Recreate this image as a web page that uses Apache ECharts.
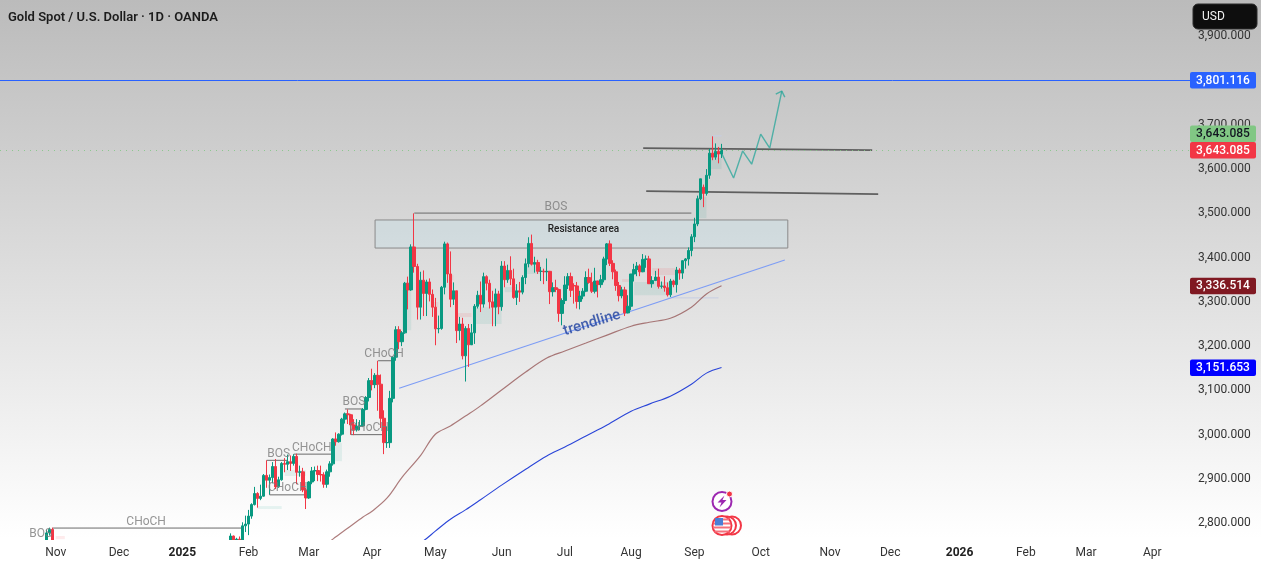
<!DOCTYPE html>
<html>
<head>
<meta charset="utf-8">
<title>Gold Spot / U.S. Dollar</title>
<style>html,body{margin:0;padding:0;background:#fff}#chart{width:1261px;height:567px}</style>
<script src="https://cdn.jsdelivr.net/npm/echarts@6/dist/echarts.min.js"></script>
</head>
<body>
<div id="chart"></div>
<script>
// Daily session calendar for the time scale
const sessionStart = '2024-10-08';
const sessionEnd = '2026-04-17';
const closedDays = ['2024-12-25', '2025-01-01', '2025-04-18', '2025-07-04'];

const monthTickDates = ['2024-11-01','2024-12-02','2025-01-02','2025-02-03','2025-03-03','2025-04-01','2025-05-01','2025-06-02','2025-07-01','2025-08-01','2025-09-01','2025-10-01','2025-11-03','2025-12-01','2026-01-01','2026-02-02','2026-03-02','2026-04-01'];
const monthTickLabels = ['Nov','Dec','2025','Feb','Mar','Apr','May','Jun','Jul','Aug','Sep','Oct','Nov','Dec','2026','Feb','Mar','Apr'];
const priceTicks = [2800,2900,3000,3100,3200,3300,3400,3500,3600,3700,3900];

// XAU/USD daily bars: date, open, close, low, high
const goldCandles = [
['2024-10-29',2742,2778,2735,2785],['2024-10-30',2778,2786,2772,2790],['2024-10-31',2786,2743,2730,2790],
['2025-01-24',2755,2771,2751,2777],['2025-01-27',2771,2741,2730,2772],['2025-01-28',2741,2764,2733,2767],['2025-01-29',2764,2760,2750,2770],['2025-01-30',2760,2794,2758,2802],['2025-01-31',2794,2798,2780,2817],
['2025-02-03',2798,2816,2773,2830],['2025-02-04',2816,2842,2810,2845],['2025-02-05',2842,2867,2840,2882],['2025-02-06',2867,2856,2835,2870],['2025-02-07',2856,2861,2852,2887],
['2025-02-10',2861,2908,2860,2911],['2025-02-11',2908,2897,2880,2942],['2025-02-12',2897,2903,2865,2910],['2025-02-13',2903,2928,2890,2938],['2025-02-14',2928,2882,2877,2945],
['2025-02-17',2882,2898,2880,2905],['2025-02-18',2898,2935,2896,2938],['2025-02-19',2935,2933,2915,2947],['2025-02-20',2933,2939,2920,2955],['2025-02-21',2939,2935,2918,2953],
['2025-02-24',2935,2951,2930,2956],['2025-02-25',2951,2915,2888,2957],['2025-02-26',2915,2916,2905,2930],['2025-02-27',2916,2875,2870,2925],['2025-02-28',2875,2857,2832,2880],
['2025-03-03',2857,2893,2855,2895],['2025-03-04',2893,2918,2888,2927],['2025-03-05',2918,2919,2895,2928],['2025-03-06',2919,2910,2895,2930],['2025-03-07',2910,2909,2894,2930],
['2025-03-10',2909,2888,2880,2915],['2025-03-11',2888,2916,2880,2921],['2025-03-12',2916,2934,2905,2940],['2025-03-13',2934,2990,2930,2992],['2025-03-14',2990,2984,2975,3005],
['2025-03-17',2984,3001,2982,3003],['2025-03-18',3001,3035,2998,3038],['2025-03-19',3035,3047,3025,3050],['2025-03-20',3047,3045,3024,3057],['2025-03-21',3045,3022,3000,3047],
['2025-03-24',3022,3011,2999,3035],['2025-03-25',3011,3019,3007,3035],['2025-03-26',3019,3020,3010,3033],['2025-03-27',3020,3057,3017,3060],['2025-03-28',3057,3084,3055,3087],
['2025-03-31',3084,3122,3075,3128],['2025-04-01',3122,3113,3100,3149],['2025-04-02',3113,3134,3105,3139],['2025-04-03',3134,3114,3054,3167],['2025-04-04',3114,3037,3015,3136],
['2025-04-07',3037,2982,2956,3055],['2025-04-08',2982,2982,2970,3018],['2025-04-09',2982,3082,2970,3099],['2025-04-10',3082,3175,3073,3177],['2025-04-11',3175,3237,3167,3245],
['2025-04-14',3237,3210,3193,3245],['2025-04-15',3210,3230,3200,3234],['2025-04-16',3230,3342,3228,3345],['2025-04-17',3342,3327,3283,3357],
['2025-04-21',3327,3424,3325,3430],['2025-04-22',3424,3380,3366,3500],['2025-04-23',3380,3288,3260,3386],['2025-04-24',3288,3349,3260,3368],['2025-04-25',3349,3319,3268,3371],
['2025-04-28',3319,3345,3268,3350],['2025-04-29',3345,3317,3301,3353],['2025-04-30',3317,3288,3266,3328],['2025-05-01',3288,3239,3202,3309],['2025-05-02',3239,3240,3229,3269],
['2025-05-05',3240,3333,3237,3336],['2025-05-06',3333,3431,3317,3436],['2025-05-07',3431,3363,3343,3434],['2025-05-08',3363,3306,3288,3414],['2025-05-09',3306,3325,3293,3344],
['2025-05-12',3325,3235,3207,3325],['2025-05-13',3235,3250,3213,3266],['2025-05-14',3250,3178,3170,3264],['2025-05-15',3178,3240,3120,3245],['2025-05-16',3240,3203,3153,3250],
['2025-05-19',3203,3230,3206,3250],['2025-05-20',3230,3290,3205,3295],['2025-05-21',3290,3315,3285,3325],['2025-05-22',3315,3295,3277,3346],['2025-05-23',3295,3357,3287,3366],
['2025-05-26',3357,3342,3326,3360],['2025-05-27',3342,3300,3285,3350],['2025-05-28',3300,3288,3245,3325],['2025-05-29',3288,3318,3245,3330],['2025-05-30',3318,3289,3272,3325],
['2025-06-02',3289,3381,3280,3392],['2025-06-03',3381,3350,3333,3392],['2025-06-04',3350,3371,3343,3384],['2025-06-05',3371,3352,3338,3403],['2025-06-06',3352,3310,3307,3375],
['2025-06-09',3310,3325,3293,3340],['2025-06-10',3325,3322,3300,3345],['2025-06-11',3322,3355,3317,3360],['2025-06-12',3355,3386,3340,3398],['2025-06-13',3386,3432,3378,3446],
['2025-06-16',3432,3385,3382,3452],['2025-06-17',3385,3389,3366,3402],['2025-06-18',3389,3369,3363,3395],['2025-06-19',3369,3369,3347,3379],['2025-06-20',3369,3368,3340,3375],
['2025-06-23',3368,3369,3347,3398],['2025-06-24',3369,3323,3295,3370],['2025-06-25',3323,3332,3312,3344],['2025-06-26',3332,3328,3322,3350],['2025-06-27',3328,3274,3255,3330],
['2025-06-30',3274,3303,3247,3308],['2025-07-01',3303,3338,3295,3358],['2025-07-02',3338,3357,3329,3365],['2025-07-03',3357,3326,3311,3366],
['2025-07-07',3337,3336,3296,3342],['2025-07-08',3336,3301,3285,3345],['2025-07-09',3301,3313,3283,3325],['2025-07-10',3313,3324,3306,3331],['2025-07-11',3324,3355,3322,3369],
['2025-07-14',3355,3344,3341,3375],['2025-07-15',3344,3324,3320,3366],['2025-07-16',3324,3347,3319,3377],['2025-07-17',3347,3339,3310,3348],['2025-07-18',3339,3350,3332,3361],
['2025-07-21',3350,3397,3344,3402],['2025-07-22',3397,3431,3383,3433],['2025-07-23',3431,3387,3381,3439],['2025-07-24',3387,3368,3351,3394],['2025-07-25',3368,3337,3325,3373],
['2025-07-28',3337,3314,3301,3345],['2025-07-29',3314,3327,3308,3334],['2025-07-30',3327,3275,3268,3334],['2025-07-31',3275,3290,3274,3315],['2025-08-01',3290,3363,3281,3363],
['2025-08-04',3363,3373,3346,3386],['2025-08-05',3373,3381,3358,3390],['2025-08-06',3381,3368,3358,3385],['2025-08-07',3368,3396,3367,3408],['2025-08-08',3396,3397,3377,3405],
['2025-08-11',3397,3341,3341,3404],['2025-08-12',3341,3348,3332,3358],['2025-08-13',3348,3356,3347,3370],['2025-08-14',3356,3335,3330,3375],['2025-08-15',3335,3336,3330,3346],
['2025-08-18',3336,3332,3323,3358],['2025-08-19',3332,3316,3312,3344],['2025-08-20',3316,3347,3311,3352],['2025-08-21',3347,3339,3333,3350],['2025-08-22',3339,3372,3321,3379],
['2025-08-25',3372,3365,3350,3376],['2025-08-26',3365,3393,3352,3394],['2025-08-27',3393,3397,3375,3399],['2025-08-28',3397,3416,3382,3423],['2025-08-29',3416,3447,3403,3453],
['2025-09-01',3447,3476,3435,3490],['2025-09-02',3476,3533,3471,3540],['2025-09-03',3533,3578,3530,3578],['2025-09-04',3559,3545,3514,3565],['2025-09-05',3545,3586,3540,3600],
['2025-09-08',3586,3636,3578,3646],['2025-09-09',3636,3627,3620,3674],['2025-09-10',3627,3640,3621,3658],['2025-09-11',3640,3634,3613,3650],['2025-09-12',3634,3643.085,3625,3657]
];

// Long moving averages, sampled through the session
const slowAverageBrown = [['2025-03-10',2748],['2025-03-13',2764],['2025-03-20',2789],['2025-03-27',2814],['2025-04-01',2827],['2025-04-08',2857],['2025-04-15',2904],['2025-04-24',2952],['2025-05-01',3001],['2025-05-08',3019.5],['2025-05-15',3042],['2025-05-22',3065],['2025-06-02',3101],['2025-06-12',3141.5],['2025-06-23',3173],['2025-07-01',3189],['2025-07-11',3207],['2025-07-22',3225],['2025-08-01',3245],['2025-08-11',3254],['2025-08-20',3263],['2025-08-29',3288],['2025-09-05',3318],['2025-09-12',3336.514]];
const slowAverageBlue = [['2025-04-22',2751],['2025-04-25',2760],['2025-05-01',2782],['2025-05-08',2809],['2025-05-15',2830],['2025-05-22',2853],['2025-06-02',2886],['2025-06-12',2922],['2025-06-23',2952],['2025-07-01',2972],['2025-07-11',2997],['2025-07-22',3022],['2025-08-01',3053],['2025-08-11',3069],['2025-08-20',3087],['2025-08-29',3114],['2025-09-05',3139],['2025-09-12',3151.653]];

// Hand-drawn analysis
const trendlinePoints = [['2025-04-14',3105],['2025-10-13',3394.5]];
const upperLevelPoints = [['2025-08-07',3647.5],['2025-11-21',3643]];
const lowerLevelPoints = [['2025-08-08',3550],['2025-11-25',3543.6]];
const projectionPath = [['2025-09-12',3636],['2025-09-18',3580],['2025-09-23',3641],['2025-09-26',3611],['2025-10-01',3679],['2025-10-06',3647.5],['2025-10-10',3776]];
const projectionHead = [['2025-10-08',3769.5],['2025-10-10',3776],['2025-10-13',3762.7]];
const resistanceArea = {from:'2025-04-02', to:'2025-10-14', top:3485, bottom:3421.6};
const rangeGuides = [[['2025-09-09',3675],['2025-09-12',3675]],[['2025-08-19',3309],['2025-09-11',3309]]];

// Market structure breaks: text, where it sits, and the line it annotates
const structureLabels = ['BOS','CHoCH','BOS','CHoCH','CHoCH','BOS','CHoCH','CHoCH','BOS'];
const structureAnchors = [['2024-10-25',2760],['2024-12-13',2789],['2025-02-17',2942],['2025-03-04',2956],['2025-02-20',2864],['2025-03-24',3058],['2025-03-31',3000],['2025-04-07',3167],['2025-06-26',3500.6]];
const structurePaths = [
[['2024-10-17',2760],['2024-10-31',2760]],
[['2024-10-31',2789],['2025-01-30',2789]],
[['2025-02-11',2942],['2025-02-20',2942]],
[['2025-02-24',2956],['2025-03-13',2956]],
[['2025-02-12',2891],['2025-02-12',2864],['2025-02-28',2864]],
[['2025-03-19',3058],['2025-03-27',3058]],
[['2025-03-21',3032],['2025-03-21',3000],['2025-04-07',3000]],
[['2025-04-03',3167],['2025-04-10',3167]],
[['2025-04-22',3500.6],['2025-08-29',3500.6]]
];

// Pale imbalance zones: from, to, top, bottom
const demandZones = [['2025-02-06','2025-02-18',2838.7,2832],['2025-02-19','2025-02-28',2920,2906.5],['2025-03-13','2025-03-18',2981,2940],['2025-04-15','2025-04-21',3326.7,3236],['2025-05-20','2025-06-02',3288,3250],['2025-06-03','2025-06-09',3333.5,3322],['2025-06-12','2025-06-19',3383,3363],['2025-08-04','2025-08-20',3345,3315],['2025-09-02','2025-09-05',3536.8,3489],['2025-09-08','2025-09-12',3625,3600]];
const supplyZones = [['2024-11-01','2024-11-06',2771,2764],['2025-04-30','2025-05-02',3299.6,3288],['2025-05-08','2025-05-09',3360.6,3349],['2025-05-12','2025-05-19',3274.7,3265.7],['2025-07-29','2025-08-01',3351.6,3345],['2025-08-12','2025-08-22',3376.4,3360.6]];

// Price scale tags
const lastPrice = 3643.085;
const targetPrice = 3801.116;
const tagPrices = [targetPrice, lastPrice, lastPrice, 3336.514, 3151.653];
const tagSlots = [0, 1, 0, 0, 0];
const tagFills = ['#2962ff', '#81c784', '#f23645', '#801922', '#0000ff'];
const tagInks = ['#ffffff', '#131722', '#ffffff', '#ffffff', '#ffffff'];

const axisFont = 'Roboto, "Liberation Sans", sans-serif';

function tradingCalendar() {
  const days = [];
  const end = Date.parse(sessionEnd + 'T00:00:00Z');
  for (let t = Date.parse(sessionStart + 'T00:00:00Z'); t <= end; t += 86400000) {
    const d = new Date(t);
    const iso = d.toISOString().slice(0, 10);
    if (d.getUTCDay() !== 0 && d.getUTCDay() !== 6 && !closedDays.includes(iso)) days.push(iso);
  }
  return days;
}
const tradingDays = tradingCalendar();

function formatPrice(v) {
  return Number(v).toLocaleString('en-US', {minimumFractionDigits: 3, maximumFractionDigits: 3});
}

function drawnLine(name, points, color, width, z, smooth) {
  return {
    name, type: 'line', data: points, showSymbol: false, silent: true, animation: false,
    smooth: smooth || false,
    lineStyle: {color, width}, z: z || 3
  };
}

function zoneItems(rows, fill) {
  return rows.map(r => [
    {xAxis: r[0], yAxis: r[2], itemStyle: {color: fill, borderWidth: 0}},
    {xAxis: r[1], yAxis: r[3]}
  ]);
}

const resistanceItem = [
  {
    xAxis: resistanceArea.from, yAxis: resistanceArea.top,
    itemStyle: {color: 'rgba(200,222,228,0.45)', borderColor: '#8a8a8a', borderWidth: 1},
    label: {show: true, formatter: 'Resistance area', position: 'insideTop', distance: 5, offset: [2, 0], color: '#222', fontFamily: axisFont, fontSize: 10, fontWeight: 500}
  },
  {xAxis: resistanceArea.to, yAxis: resistanceArea.bottom}
];

const chart = echarts.init(document.getElementById('chart'), null, {renderer: 'canvas'});

const flagStripes = [[518.5, 7, 2], [522.5, 8.5, 2], [526.5, 9, 2], [530.5, 7.5, 2]];

chart.setOption({
  animation: false,
  backgroundColor: new echarts.graphic.LinearGradient(0, 0, 0, 1, [
    {offset: 0, color: '#bbbbbb'},
    {offset: 0.95, color: '#ffffff'},
    {offset: 1, color: '#ffffff'}
  ]),
  title: {
    text: 'Gold Spot / U.S. Dollar · 1D · OANDA', left: 8, top: 11, padding: 0,
    textStyle: {fontFamily: axisFont, fontSize: 13, fontWeight: 600, color: '#1c1c1c'}
  },
  grid: {left: 0, right: 71, top: 0, bottom: 27},
  xAxis: {
    type: 'category', data: tradingDays, boundaryGap: true, z: 7,
    axisLine: {show: false}, axisTick: {show: false}, splitLine: {show: false},
    axisLabel: {
      margin: 7, fontFamily: axisFont, fontSize: 12, color: '#333',
      interval: (i, d) => monthTickDates.includes(d),
      formatter: d => {
        const label = monthTickLabels[monthTickDates.indexOf(d)];
        return /^\d/.test(label) ? '{year|' + label + '}' : label;
      },
      rich: {year: {fontFamily: axisFont, fontSize: 12, fontWeight: 'bold', color: '#222'}}
    }
  },
  yAxis: {
    type: 'value', position: 'right', min: 2762, max: 3982,
    axisLine: {show: false}, axisTick: {show: false}, splitLine: {show: false},
    axisLabel: {customValues: priceTicks, margin: 8, padding: [2, 0, 0, 0], fontFamily: axisFont, fontSize: 12, color: '#333', formatter: formatPrice}
  },
  series: [
    {
      name: 'XAUUSD', type: 'candlestick', data: goldCandles, barWidth: 3, silent: true, z: 4,
      encode: {x: 0, y: [1, 2, 3, 4]},
      itemStyle: {color: '#089981', color0: '#f23645', borderColor: '#089981', borderColor0: '#f23645', borderWidth: 1},
      markLine: {
        silent: true, symbol: 'none', animation: false, label: {show: false},
        data: [
          {yAxis: targetPrice, lineStyle: {color: '#2962ff', width: 1, type: 'solid'}},
          {yAxis: lastPrice, lineStyle: {color: 'rgba(129,199,132,0.85)', width: 1, type: [1, 5]}}
        ]
      },
      markArea: {
        silent: true, animation: false,
        data: [resistanceItem].concat(
          zoneItems(demandZones, 'rgba(8,153,129,0.09)'),
          zoneItems(supplyZones, 'rgba(242,54,69,0.10)')
        )
      }
    },
    drawnLine('Slow average', slowAverageBrown, 'rgba(140,70,70,0.7)', 1.2, 3, 0.35),
    drawnLine('Long average', slowAverageBlue, '#2a45d8', 1.1, 3, 0.35),
    drawnLine('Trendline', trendlinePoints, '#7c9cf5', 1.1),
    drawnLine('Upper level', upperLevelPoints, '#5f5f5f', 1.7),
    drawnLine('Lower level', lowerLevelPoints, '#5f5f5f', 1.7),
    drawnLine('Projection', projectionPath, 'rgba(38,166,154,0.75)', 1.4),
    drawnLine('Projection head', projectionHead, 'rgba(38,166,154,0.75)', 1.4),
    ...rangeGuides.map((g, i) => drawnLine('Range guide ' + i, g, '#c6cde2', 1, 1)),
    ...structurePaths.map((p, i) => drawnLine('Structure ' + i, p, '#6a6a6a', 1, 3)),
    {
      name: 'Structure text', type: 'scatter', silent: true, clip: false, symbolSize: 1, z: 6,
      itemStyle: {color: 'transparent'},
      data: structureAnchors.map((a, i) => ({
        value: a,
        label: {show: true, position: 'top', distance: 0, formatter: structureLabels[i], color: '#7a7a7a', fontFamily: axisFont, fontSize: 12}
      }))
    },
    {
      name: 'Trendline text', type: 'scatter', silent: true, clip: false, symbolSize: 1, z: 6,
      itemStyle: {color: 'transparent'},
      data: [{
        value: ['2025-07-15', 3252],
        label: {show: true, position: 'inside', rotate: 17, formatter: 'trendline', color: '#1b3f9f', fontFamily: axisFont, fontSize: 15, fontWeight: 500}
      }]
    },
    {
      name: 'Price tags', type: 'custom', silent: true, clip: false, z: 8,
      data: tagPrices.map((p, i) => [tradingDays[0], p, i]),
      encode: {x: 0, y: 1},
      renderItem: (params, api) => {
        const i = api.value(2);
        const right = params.coordSys.x + params.coordSys.width;
        const y = api.coord([api.value(0), api.value(1)])[1] - tagSlots[i] * 16.5;
        return {
          type: 'group',
          children: [
            {type: 'rect', shape: {x: right, y: y - 8, width: 66, height: 16.5, r: 2}, style: {fill: tagFills[i]}},
            {type: 'text', style: {x: right + 33, y: y + 0.5, text: formatPrice(api.value(1)), fill: tagInks[i], font: '500 12px ' + axisFont, textAlign: 'center', textVerticalAlign: 'middle'}}
          ]
        };
      }
    }
  ],
  graphic: [
    // time scale strip sits over the pane edge
    {type: 'rect', z: 5, silent: true, shape: {x: 0, y: 540, width: 1190, height: 27}, style: {fill: '#ffffff'}},
    {type: 'rect', z: 100, shape: {x: 1193, y: 4, width: 64, height: 25, r: 5}, style: {fill: '#0e0e0e', stroke: '#2a2a2a', lineWidth: 1}},
    {type: 'text', z: 101, style: {x: 1202, y: 17, text: 'USD', fill: '#f2f2f2', font: '12px ' + axisFont, textVerticalAlign: 'middle'}},
    {type: 'circle', z: 50, shape: {cx: 722, cy: 501.5, r: 9.5}, style: {fill: '#ffffff', stroke: '#9c27b0', lineWidth: 2}},
    {type: 'polygon', z: 51, shape: {points: [[724.5,495.5],[717.5,502.5],[721.5,502.5],[719.5,507.5],[726.5,500],[722.5,500]]}, style: {fill: '#9c27b0'}},
    {type: 'circle', z: 52, shape: {cx: 729.5, cy: 494, r: 3}, style: {fill: '#f23645', stroke: '#ffffff', lineWidth: 1}},
    {type: 'circle', z: 50, shape: {cx: 732, cy: 525.5, r: 9}, style: {fill: '#ffffff', stroke: '#f23645', lineWidth: 2}},
    {type: 'circle', z: 51, shape: {cx: 727, cy: 525.5, r: 9}, style: {fill: '#ffffff', stroke: '#f23645', lineWidth: 2}},
    {type: 'circle', z: 52, shape: {cx: 722, cy: 525.5, r: 9.5}, style: {fill: '#ffffff', stroke: '#f23645', lineWidth: 2}},
    ...flagStripes.map(s => ({type: 'rect', z: 53, shape: {x: 722 - s[1], y: s[0], width: 2 * s[1], height: s[2]}, style: {fill: '#f5707c'}})),
    {type: 'rect', z: 54, shape: {x: 715, y: 518, width: 8, height: 7.5}, style: {fill: '#4a7fd6'}}
  ]
});
</script>
</body>
</html>
